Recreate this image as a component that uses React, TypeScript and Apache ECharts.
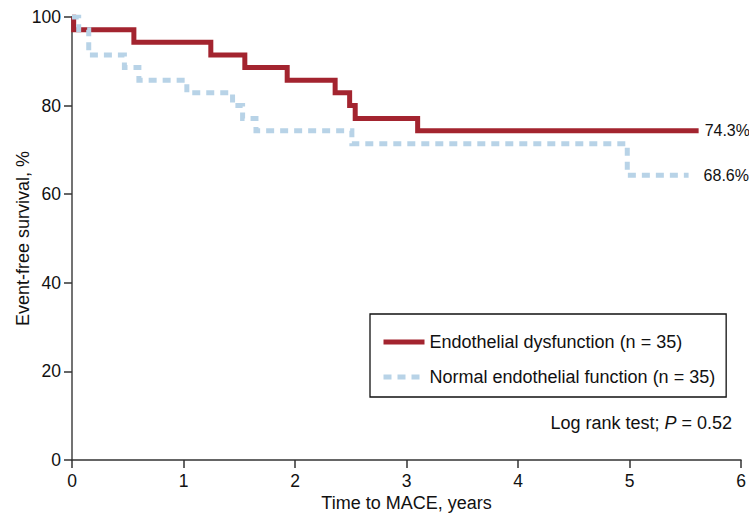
import React, { useEffect, useRef } from "react";
import * as echarts from "echarts";

const xTicks = [0, 1, 2, 3, 4, 5, 6];
const yTicks = [0, 20, 40, 60, 80, 100];

const seriesNames = [
  "Endothelial dysfunction (n = 35)",
  "Normal endothelial function (n = 35)",
];

// Kaplan-Meier steps: time (years) and survival (%) after each event
const timesDysfunction = [0, 0.015, 0.555, 1.245, 1.55, 1.93, 2.36, 2.49, 2.54, 3.1, 5.62];
const survDysfunction = [100, 97.1, 94.3, 91.4, 88.6, 85.7, 82.9, 80.0, 77.1, 74.3, 74.3];

const timesNormal = [0, 0.06, 0.15, 0.47, 0.6, 1.03, 1.44, 1.53, 1.65, 2.51, 4.98, 5.53];
const survNormal = [100, 97.1, 91.4, 88.6, 85.7, 82.9, 80.0, 77.1, 74.3, 71.4, 64.3, 64.3];

const endLabels = ["74.3%", "68.6%"];
const pValueText = ["Log rank test; ", "P", " = 0.52"];

const FONT = "'Liberation Sans', Arial, Helvetica, sans-serif";

export default function App() {
  const ref = useRef<HTMLDivElement>(null);

  useEffect(() => {
    if (!ref.current) return;
    const chart = echarts.init(ref.current, undefined, { renderer: "svg" });
    const zip = (t: number[], s: number[]) => t.map((v, i) => [v, s[i]]);

    chart.setOption({
      animation: false,
      backgroundColor: "#ffffff",
      textStyle: { fontFamily: FONT },
      grid: {
        left: 72,
        right: 8,
        top: 17,
        bottom: 55,
        containLabel: false,
        outerBoundsMode: "none",
      },
      xAxis: {
        type: "value",
        min: xTicks[0],
        max: xTicks[xTicks.length - 1],
        interval: 1,
        name: "Time to MACE, years",
        nameLocation: "middle",
        nameGap: 34,
        nameMoveOverlap: false,
        nameTextStyle: { fontSize: 18, color: "#111", fontFamily: FONT },
        axisLine: { show: true, onZero: false, lineStyle: { color: "#333", width: 1.5 } },
        axisTick: { show: true, length: 8, inside: false, lineStyle: { color: "#333", width: 1.5 } },
        axisLabel: { fontSize: 17.5, color: "#111", margin: 12, fontFamily: FONT },
        splitLine: { show: false },
      },
      yAxis: {
        type: "value",
        min: yTicks[0],
        max: yTicks[yTicks.length - 1],
        interval: 20,
        name: "Event-free survival, %",
        nameLocation: "middle",
        nameGap: 40,
        nameMoveOverlap: false,
        nameTextStyle: { fontSize: 18, color: "#111", fontFamily: FONT },
        axisLine: { show: true, onZero: false, lineStyle: { color: "#444", width: 1.5 } },
        axisTick: { show: true, length: 8, inside: false, lineStyle: { color: "#333", width: 1.5 } },
        axisLabel: { fontSize: 17.5, color: "#111", margin: 11, fontFamily: FONT },
        splitLine: { show: false },
      },
      legend: {
        orient: "vertical",
        left: 370,
        top: 314,
        data: seriesNames,
        itemWidth: 41,
        itemHeight: 14,
        itemGap: 17,
        padding: [19, 11, 11, 11],
        borderColor: "#111",
        borderWidth: 1.3,
        borderRadius: 0,
        itemStyle: { opacity: 0, color: "transparent", borderWidth: 0 },
        lineStyle: { width: 5 },
        textStyle: { fontSize: 18, color: "#111", fontFamily: FONT },
      },
      series: [
        {
          name: seriesNames[0],
          type: "line",
          step: "end",
          symbol: "none",
          showSymbol: false,
          data: zip(timesDysfunction, survDysfunction),
          lineStyle: { color: "#A3242F", width: 5, cap: "butt", join: "miter" },
          itemStyle: { color: "#A3242F" },
          endLabel: {
            show: true,
            formatter: () => endLabels[0],
            distance: 6,
            fontSize: 16,
            color: "#111",
            fontFamily: FONT,
          },
          z: 2,
        },
        {
          name: seriesNames[1],
          type: "line",
          step: "end",
          symbol: "none",
          showSymbol: false,
          data: zip(timesNormal, survNormal),
          lineStyle: { color: "#B8D3E7", width: 5, type: [8, 6], cap: "butt", join: "miter" },
          itemStyle: { color: "#B8D3E7" },
          endLabel: {
            show: true,
            formatter: () => endLabels[1],
            distance: 15,
            fontSize: 16,
            color: "#111",
            fontFamily: FONT,
          },
          z: 3,
        },
      ],
      graphic: [
        {
          type: "text",
          x: 732,
          y: 423,
          style: {
            text: `{n|${pValueText[0]}}{i|${pValueText[1]}}{n|${pValueText[2]}}`,
            align: "right",
            verticalAlign: "middle",
            rich: {
              n: { fontSize: 18, fontFamily: FONT, fill: "#111" },
              i: { fontSize: 18, fontFamily: FONT, fontStyle: "italic", fill: "#111" },
            },
          },
        },
      ],
    });

    return () => chart.dispose();
  }, []);

  return (
    <div
      ref={ref}
      style={{ position: "fixed", left: 0, top: 0, width: 749, height: 515, background: "#fff" }}
    />
  );
}
